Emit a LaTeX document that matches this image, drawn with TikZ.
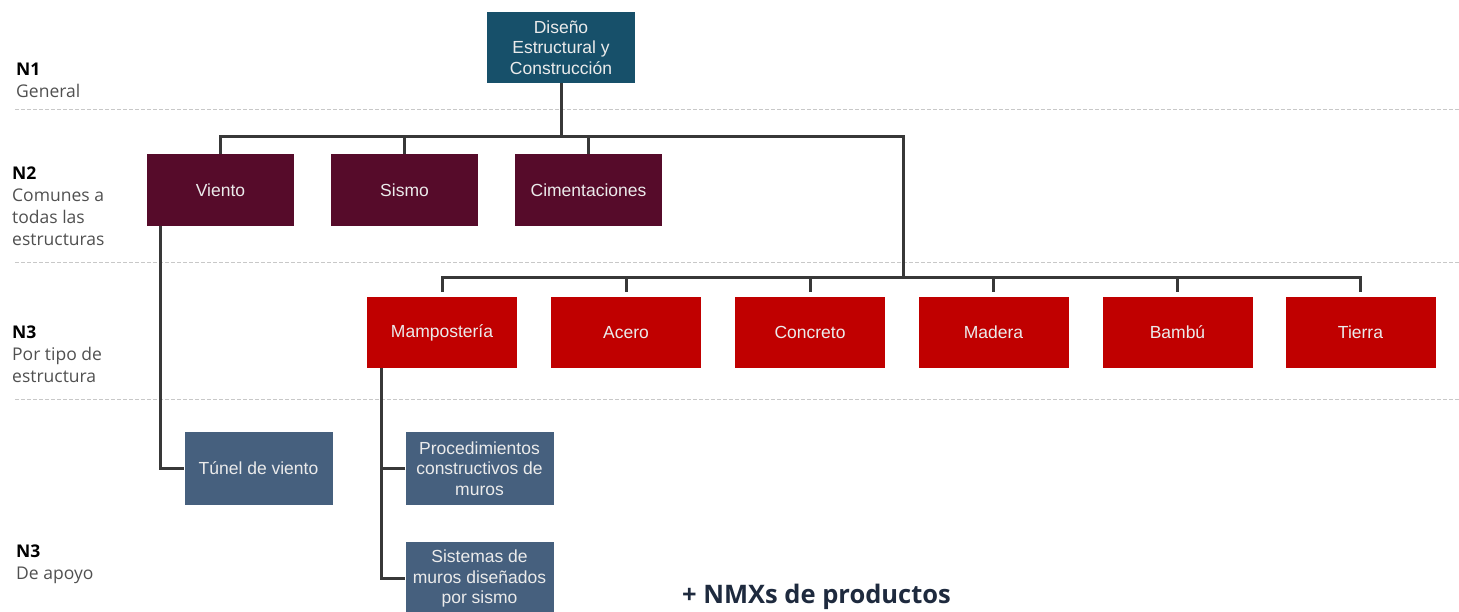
\documentclass[tikz,border=0pt]{standalone}
\usepackage{fontspec}
\setmainfont{Open Sans}
\newfontfamily\boxfont{Liberation Sans}
\definecolor{topc}{HTML}{17506A}
\definecolor{n2c}{HTML}{560B2A}
\definecolor{n3c}{HTML}{C00000}
\definecolor{apc}{HTML}{46607E}
\definecolor{linec}{HTML}{383838}
\definecolor{sepc}{HTML}{C8C8C8}
\definecolor{labc}{HTML}{505050}
\definecolor{navy}{HTML}{1E2A3E}
\tikzset{
  base/.style={inner sep=1pt, align=center, text=white!92!black, font=\boxfont\fontsize{17.5}{20.5}\selectfont},
  topbox/.style={base, fill=topc, minimum width=148pt, minimum height=71pt},
  ntwo/.style={base, fill=n2c, minimum width=147pt, minimum height=72pt},
  nthree/.style={base, fill=n3c, minimum width=150pt, minimum height=71pt},
  apbox/.style={base, fill=apc, minimum width=148pt, minimum height=73pt},
  conn/.style={draw=linec, line width=3pt},
  sep/.style={draw=sepc, line width=1pt, dash pattern=on 4pt off 2pt},
  lvl/.style={anchor=north west, align=left, inner sep=0pt, text=labc, font=\fontsize{17.5}{22}\selectfont},
}
\begin{document}
\begin{tikzpicture}[x=1pt,y=-1pt]
\useasboundingbox (0,0) rectangle (1459,611);
% separators
\draw[sep] (15,109) -- (1459,109);
\draw[sep] (15,262) -- (1459,262);
\draw[sep] (15,399) -- (1459,399);
% level labels
\node[lvl] (l1) at (16,63) {\textbf{\textcolor{black}{N1}}\\General};
\node[lvl] (l2) at (12,167) {\textbf{\textcolor{black}{N2}}\\Comunes a\\todas las\\estructuras};
\node[lvl] (l3) at (12,326) {\textbf{\textcolor{black}{N3}}\\Por tipo de\\estructura};
\node[lvl] (l4) at (16,545) {\textbf{\textcolor{black}{N3}}\\De apoyo};
% nodes
\node[topbox] (top) at (561,47.5) {Diseño\\Estructural y\\Construcción};
\node[ntwo] (vie) at (220.5,190) {Viento};
\node[ntwo] (sis) at (404.5,190) {Sismo};
\node[ntwo] (cim) at (588.5,190) {Cimentaciones};
\node[nthree] (mam) at (442,332.5) {Mampostería};
\node[nthree] (ace) at (626,332.5) {Acero};
\node[nthree] (con) at (810,332.5) {Concreto};
\node[nthree] (mad) at (993.5,332.5) {Madera};
\node[nthree] (bam) at (1177.5,332.5) {Bambú};
\node[nthree] (tie) at (1360.5,332.5) {Tierra};
\node[apbox] (tun) at (258.5,468.5) {Túnel de viento};
\node[apbox] (pro) at (479.5,468.5) {Procedimientos\\constructivos de\\muros};
\node[apbox] (sist) at (479.5,578.5) {Sistemas de\\muros diseñados\\por sismo};
\node[anchor=west, inner sep=0pt, text=navy, font=\bfseries\fontsize{25.5}{28}\selectfont] (nmx) at (682,597) {+ NMXs de productos};
% connectors
\coordinate (bus1) at (561,136);
\coordinate (bus2) at (903,277);
\coordinate (vx) at (160,226);
\coordinate (mx) at (381,368);
\draw[conn] (top.south) -- (bus1);
\draw[conn] (vie.north) |- (bus1) -| (bus2);
\draw[conn] (sis.north) -- (sis.north |- bus1);
\draw[conn] (cim.north) -- (cim.north |- bus1);
\draw[conn] ([yshift=5pt]mam.north) |- (bus2) -| ([yshift=5pt]tie.north);
\foreach \n in {ace,con,mad,bam} \draw[conn] ([yshift=5pt]\n.north) -- (\n.north |- bus2);
\draw[conn] (vx) |- (tun.west);
\draw[conn] (mx) |- (sist.west);
\draw[conn] (pro.west) -- (pro.west -| mx);
\end{tikzpicture}
\end{document}
